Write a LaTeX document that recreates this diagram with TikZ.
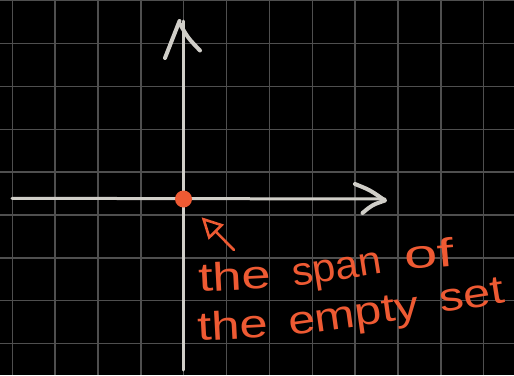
\documentclass[tikz,border=0pt]{standalone}
\usepackage{fontspec}
\setmainfont{Liberation Sans}
\usetikzlibrary{arrows.meta}
\definecolor{gridc}{HTML}{4F4F4F}
\definecolor{axisc}{HTML}{D0CEC8}
\definecolor{ink}{HTML}{EE5A33}
\begin{document}
\begin{tikzpicture}[x=1pt,y=-1pt,
  gridline/.style={draw=gridc,line width=1.4pt},
  axisline/.style={draw=axisc,line width=3pt,line cap=round},
  tipstroke/.style={draw=axisc,line width=4pt,line cap=round,line join=round},
  word/.style={text=ink,font=\fontsize{40}{40}\selectfont,anchor=base west,inner sep=0pt}]
\fill[black] (0,0) rectangle (514,375);
\useasboundingbox (0,0) rectangle (514,375);
% grid
\foreach \i in {0,...,11}{
  \draw[gridline] ({12.3+42.86*\i},0) -- ({12.3+42.86*\i},375);
}
\foreach \j in {0,...,8}{
  \draw[gridline] (0,{0.7+42.86*\j}) -- (514,{0.7+42.86*\j});
}
% axes
\coordinate (ybot) at (183.7,370);
\coordinate (ytop) at (183.7,21);
\coordinate (xleft) at (12,198.3);
\coordinate (xright) at (385,199);
\draw[axisline] (ybot) -- (ytop);
\draw[axisline] (xleft) -- (xright);
% hand-drawn arrow heads
\draw[tipstroke] (165,58) -- (179.5,21);
\draw[tipstroke] (180,24) .. controls (188,38) .. (200,50.5);
\draw[tipstroke] (355,184) .. controls (370,190) .. (385,200.5) .. controls (372,205) .. (362.5,213);
% origin dot
\node (origin) [circle,fill=ink,minimum size=17pt,inner sep=0pt] at (183.5,199) {};
% pointer arrow
\coordinate (tail) at (234,250);
\draw[ink,line width=2.6pt,line cap=round,-{Triangle[open,length=21pt,width=21pt,line width=2.6pt]},shorten >=17pt] (tail) -- (origin);
% text
\node[word,rotate=3] (w1) at (199,292) {\scalebox{1.31}[1]{the}};
\node[word,rotate=9] (w2) at (294,287) {\scalebox{1.04}[1]{span}};
\node[word,rotate=5] (w3) at (405,270) {\scalebox{1.5}[1]{of}};
\node[word,rotate=3] (w4) at (198,341) {\scalebox{1.27}[1]{the}};
\node[word,rotate=8] (w5) at (290,336) {\scalebox{1.21}[1]{empty}};
\node[word,rotate=9] (w6) at (441,313) {\scalebox{1.22}[1]{set}};
\end{tikzpicture}
\end{document}
